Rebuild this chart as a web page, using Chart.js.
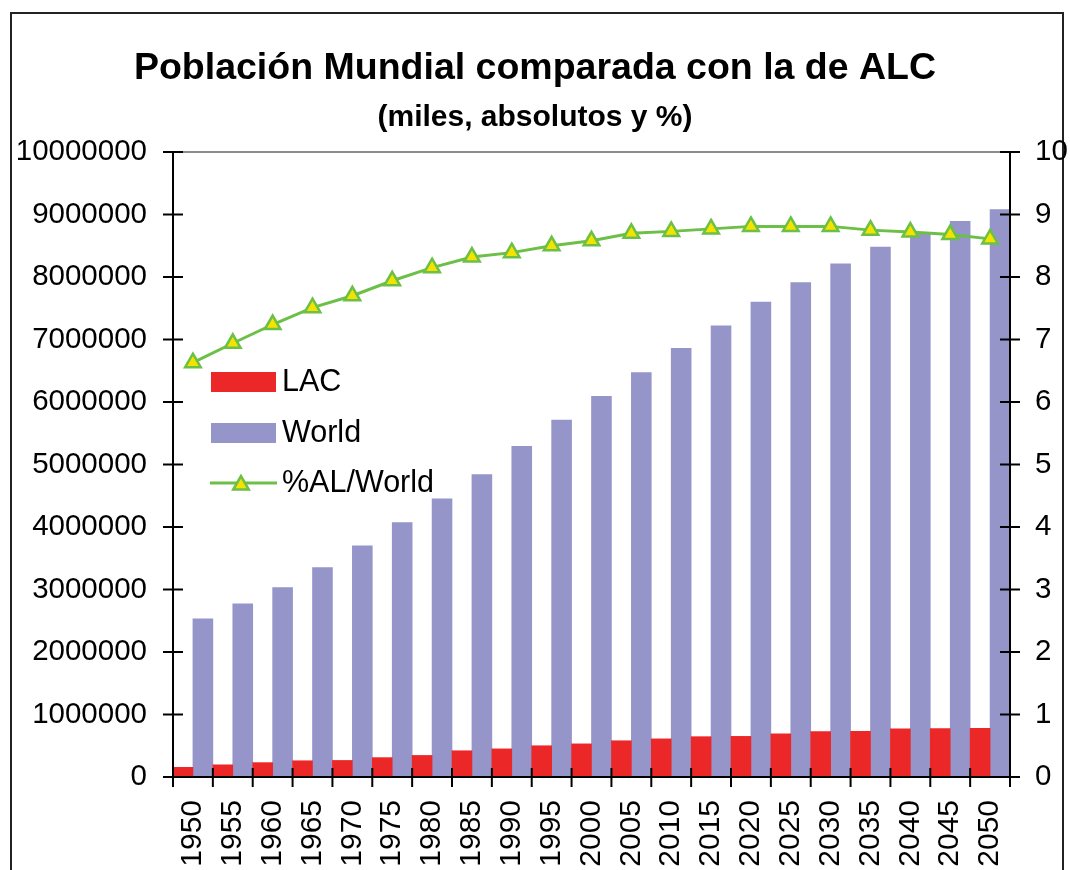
<!DOCTYPE html>
<html lang="es">
<head>
  <meta charset="UTF-8">
  <title>Población Mundial comparada con la de ALC</title>
  <script src="https://cdn.jsdelivr.net/npm/chart.js"></script>
  <style>
    body {
      margin: 0;
      background-color: #fff;
    }
    #wrap {
      width: 1070px;
      height: 870px;
    }
  </style>
</head>
<body>
  <div id="wrap"><canvas id="popChart"></canvas></div>

  <script>
    // datos (miles de personas y %)
    const years = ['1950', '1955', '1960', '1965', '1970', '1975', '1980', '1985', '1990', '1995', '2000',
                   '2005', '2010', '2015', '2020', '2025', '2030', '2035', '2040', '2045', '2050'];
    const lac = [155000, 195000, 230000, 260000, 265000, 310000, 345000, 420000, 450000, 500000, 530000,
                 580000, 610000, 645000, 650000, 690000, 725000, 730000, 770000, 775000, 780000];
    const world = [2530000, 2770000, 3030000, 3350000, 3700000, 4070000, 4450000, 4840000, 5290000, 5710000, 6090000,
                   6470000, 6860000, 7220000, 7600000, 7910000, 8210000, 8480000, 8710000, 8890000, 9080000];
    const pctALWorld = [6.63, 6.94, 7.24, 7.51, 7.70, 7.94, 8.15, 8.32, 8.39, 8.50, 8.58,
                        8.70, 8.73, 8.77, 8.81, 8.81, 8.81, 8.75, 8.72, 8.68, 8.61];
    const leftTicksMax = 10000000;
    const rightTicksMax = 10;

    const FONT = '"Liberation Sans", Arial, sans-serif';

    // ejes con marcas que cruzan la linea, borde del area y marco exterior
    const axisPlugin = {
      id: 'axisPlugin',
      beforeDraw(chart) {
        const ctx = chart.ctx;
        ctx.save();
        ctx.strokeStyle = '#222';
        ctx.lineWidth = 2;
        ctx.strokeRect(11, 13, 1052, 900);
        ctx.restore();
      },
      afterDatasetsDraw(chart) {
        const ctx = chart.ctx;
        const a = chart.chartArea;
        const xs = chart.scales.x, yl = chart.scales.y, yr = chart.scales.y1;
        const line = (x1, y1, x2, y2) => {
          ctx.beginPath();
          ctx.moveTo(x1, y1);
          ctx.lineTo(x2, y2);
          ctx.stroke();
        };
        ctx.save();
        ctx.lineWidth = 2;
        ctx.strokeStyle = '#8c8c8c';
        line(a.left, a.top, a.right, a.top);
        ctx.strokeStyle = '#000';
        line(a.left, a.top - 1, a.left, a.bottom);
        line(a.right, a.top - 1, a.right, a.bottom);
        line(a.left - 10, a.bottom, a.right + 10, a.bottom);
        yl.ticks.forEach(t => {
          const py = yl.getPixelForValue(t.value);
          line(a.left - 10, py, a.left + 10, py);
        });
        yr.ticks.forEach(t => {
          const py = yr.getPixelForValue(t.value);
          line(a.right - 10, py, a.right + 10, py);
        });
        const n = years.length;
        for (let i = 0; i <= n; i++) {
          let px;
          if (i === 0) px = a.left;
          else if (i === n) px = a.right;
          else px = (xs.getPixelForValue(i - 1) + xs.getPixelForValue(i)) / 2;
          line(px, a.bottom - 9, px, a.bottom + 10);
        }
        ctx.restore();
      }
    };

    // leyenda dentro del area del grafico
    const legendPlugin = {
      id: 'insideLegend',
      afterDraw(chart) {
        const ctx = chart.ctx;
        const x0 = 211, rows = [382, 433, 483];
        ctx.save();
        ctx.font = '30.5px ' + FONT;
        ctx.textBaseline = 'middle';
        ctx.fillStyle = '#000';
        chart.data.datasets.forEach((ds, i) => {
          const cy = rows[i];
          if (ds.type === 'line') {
            ctx.strokeStyle = ds.borderColor;
            ctx.lineWidth = ds.borderWidth;
            ctx.beginPath();
            ctx.moveTo(x0 - 1, cy);
            ctx.lineTo(x0 + 66, cy);
            ctx.stroke();
            ctx.fillStyle = ds.pointBackgroundColor;
            ctx.strokeStyle = ds.pointBorderColor;
            ctx.lineWidth = ds.pointBorderWidth;
            Chart.helpers.drawPoint(ctx, {
              pointStyle: 'triangle', radius: ds.pointRadius, borderWidth: ds.pointBorderWidth, rotation: 0
            }, x0 + 30, cy + 2);
          } else {
            ctx.fillStyle = ds.backgroundColor;
            ctx.fillRect(x0, cy - 10, 65, 20);
          }
          ctx.fillStyle = '#000';
          ctx.fillText(ds.label, x0 + 71, cy + 1);
        });
        ctx.restore();
      }
    };

    const ctx = document.getElementById('popChart').getContext('2d');
    const popChart = new Chart(ctx, {
      type: 'bar',
      data: {
        labels: years,
        datasets: [
          {
            label: 'LAC',
            data: lac,
            backgroundColor: '#ec2727',
            yAxisID: 'y',
            barPercentage: 1,
            categoryPercentage: 1,
            order: 1
          },
          {
            label: 'World',
            data: world,
            backgroundColor: '#9595c9',
            yAxisID: 'y',
            barPercentage: 1,
            categoryPercentage: 1,
            order: 1
          },
          {
            type: 'line',
            label: '%AL/World',
            data: pctALWorld,
            yAxisID: 'y1',
            borderColor: '#6cbf47',
            borderWidth: 3,
            tension: 0,
            pointStyle: 'triangle',
            pointRadius: 9,
            pointBackgroundColor: '#f2e400',
            pointBorderColor: '#6cbf47',
            pointBorderWidth: 2.5,
            order: 0
          }
        ]
      },
      options: {
        responsive: true,
        maintainAspectRatio: false,
        animation: false,
        layout: {
          padding: { top: 14, left: 0, right: 0, bottom: 0 }
        },
        plugins: {
          legend: { display: false },
          tooltip: { enabled: false },
          title: {
            display: true,
            text: 'Población Mundial comparada con la de ALC',
            color: '#000',
            font: { family: FONT, size: 37.5, weight: 'bold' },
            padding: { top: 32, bottom: 0 }
          },
          subtitle: {
            display: true,
            text: '(miles, absolutos y %)',
            color: '#000',
            font: { family: FONT, size: 30, weight: 'bold' },
            padding: { top: 9, bottom: 16 }
          }
        },
        scales: {
          x: {
            offset: true,
            grid: { display: false, drawTicks: false },
            border: { display: false },
            ticks: {
              color: '#000',
              font: { family: FONT, size: 30 },
              minRotation: 90,
              maxRotation: 90,
              autoSkip: false,
              padding: 23
            },
            afterFit: s => { s.height = 93; }
          },
          y: {
            position: 'left',
            min: 0,
            max: leftTicksMax,
            grid: { display: false, drawTicks: false },
            border: { display: false },
            ticks: {
              stepSize: 1000000,
              color: '#000',
              font: { family: FONT, size: 29.5 },
              padding: 26,
              callback: v => String(v)
            },
            afterFit: s => { s.width = 173; }
          },
          y1: {
            position: 'right',
            min: 0,
            max: rightTicksMax,
            grid: { display: false, drawTicks: false },
            border: { display: false },
            ticks: {
              stepSize: 1,
              color: '#000',
              font: { family: FONT, size: 29.5 },
              padding: 25,
              callback: v => String(v)
            },
            afterFit: s => { s.width = 60; }
          }
        }
      },
      plugins: [axisPlugin, legendPlugin]
    });
  </script>
</body>
</html>
